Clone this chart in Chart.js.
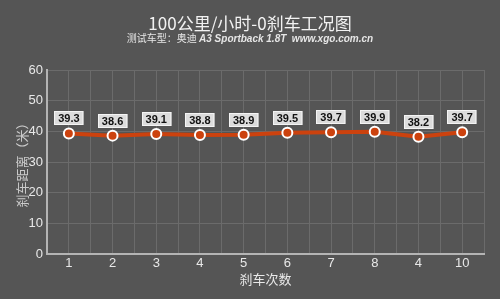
<!DOCTYPE html>
<html>
<head>
<meta charset="utf-8">
<script src="https://cdn.jsdelivr.net/npm/chart.js@4"></script>
<style>
  html, body { margin: 0; padding: 0; background: #555555; }
  #wrap { width: 500px; height: 299px; position: relative; }
</style>
</head>
<body>
<div id="wrap"><canvas id="brakeChart"></canvas></div>
<script>
const titleText = '100公里/小时-0刹车工况图';
const subtitleCn = '测试车型：奥迪 ';
const subtitleEn = 'A3 Sportback 1.8T  www.xgo.com.cn';
const runLabels = ['1', '2', '3', '4', '5', '6', '7', '8', '4', '10'];
const distances = [39.3, 38.6, 39.1, 38.8, 38.9, 39.5, 39.7, 39.9, 38.2, 39.7];
const yTitle = '刹车距离（米）';
const xTitle = '刹车次数';

const FONT = '"Liberation Sans", Arial, sans-serif';
const CJK = '"Noto Sans CJK SC", sans-serif';

// titles on top, drawn on the canvas
const headerPlugin = {
    id: 'header',
    afterDraw(chart) {
        const ctx = chart.ctx;
        ctx.save();
        ctx.fillStyle = '#f2f2f2';
        ctx.textAlign = 'center';
        ctx.textBaseline = 'alphabetic';
        ctx.font = '17px ' + CJK;
        ctx.fillText(titleText, 250, 30);

        ctx.font = '10px ' + CJK;
        const w1 = ctx.measureText(subtitleCn).width;
        ctx.font = 'italic bold 10px ' + FONT;
        const w2 = ctx.measureText(subtitleEn).width;
        let x = 250 - (w1 + w2) / 2;
        ctx.textAlign = 'left';
        ctx.fillStyle = '#e6e6e6';
        ctx.font = '10px ' + CJK;
        ctx.fillText(subtitleCn, x, 42);
        ctx.font = 'italic bold 10px ' + FONT;
        ctx.fillText(subtitleEn, x + w1, 42);
        ctx.restore();
    }
};

// value boxes above each point
const valueBoxPlugin = {
    id: 'valueBox',
    afterDatasetsDraw(chart) {
        const ctx = chart.ctx;
        const meta = chart.getDatasetMeta(0);
        ctx.save();
        ctx.font = 'bold 11px ' + FONT;
        ctx.textAlign = 'center';
        ctx.textBaseline = 'middle';
        meta.data.forEach((pt, i) => {
            const txt = distances[i].toFixed(1);
            const w = ctx.measureText(txt).width + 8;
            const h = 14;
            const bx = Math.round(pt.x - w / 2);
            const by = Math.round(pt.y - 22);
            ctx.fillStyle = '#dcdcdc';
            ctx.fillRect(bx, by, w, h);
            ctx.strokeStyle = '#f4f4f4';
            ctx.lineWidth = 1;
            ctx.strokeRect(bx + 0.5, by + 0.5, w - 1, h - 1);
            ctx.fillStyle = '#111';
            ctx.fillText(txt, pt.x, by + h / 2 + 0.5);
        });
        ctx.restore();
    }
};

new Chart(document.getElementById('brakeChart'), {
    type: 'line',
    data: {
        datasets: [{
            data: distances.map((v, i) => ({ x: i + 1, y: v })),
            borderColor: '#cc420e',
            borderWidth: 4,
            pointRadius: 5,
            pointBorderWidth: 2,
            pointBackgroundColor: '#cc420e',
            pointBorderColor: '#ffffff',
            tension: 0
        }]
    },
    options: {
        responsive: true,
        maintainAspectRatio: false,
        animation: false,
        layout: { padding: { top: 70, right: 16, left: 0, bottom: 0 } },
        plugins: { legend: { display: false }, tooltip: { enabled: false } },
        scales: {
            x: {
                type: 'linear',
                min: 0.5,
                max: 10.5,
                afterFit: s => { s.height = 45; },
                afterBuildTicks: s => {
                    s.ticks = [];
                    for (let v = 0.5; v <= 10.5; v += 0.5) s.ticks.push({ value: v });
                },
                ticks: {
                    color: '#e8e8e8',
                    font: { family: FONT, size: 13 },
                    padding: 2,
                    maxRotation: 0,
                    autoSkip: false,
                    callback: v => Number.isInteger(v) ? runLabels[v - 1] : ''
                },
                grid: { color: '#6b6b6b', lineWidth: 1, drawTicks: false },
                border: { color: '#b4b4b4', width: 2 },
                title: {
                    display: true,
                    text: xTitle,
                    color: '#e8e8e8',
                    font: { family: CJK, size: 13 },
                    padding: { top: 0, bottom: 12 }
                }
            },
            y: {
                min: 0,
                max: 60,
                afterFit: s => { s.width = 47; },
                ticks: {
                    stepSize: 5,
                    color: '#e8e8e8',
                    font: { family: FONT, size: 13 },
                    padding: 4,
                    callback: v => v % 10 === 0 ? v : ''
                },
                grid: { color: '#6b6b6b', lineWidth: 1, drawTicks: false },
                border: { color: '#b4b4b4', width: 2 },
                title: {
                    display: true,
                    text: yTitle,
                    color: '#cccccc',
                    font: { family: CJK, size: 13 },
                    padding: { top: 14, bottom: 0 }
                }
            }
        }
    },
    plugins: [headerPlugin, valueBoxPlugin]
});
</script>
</body>
</html>
